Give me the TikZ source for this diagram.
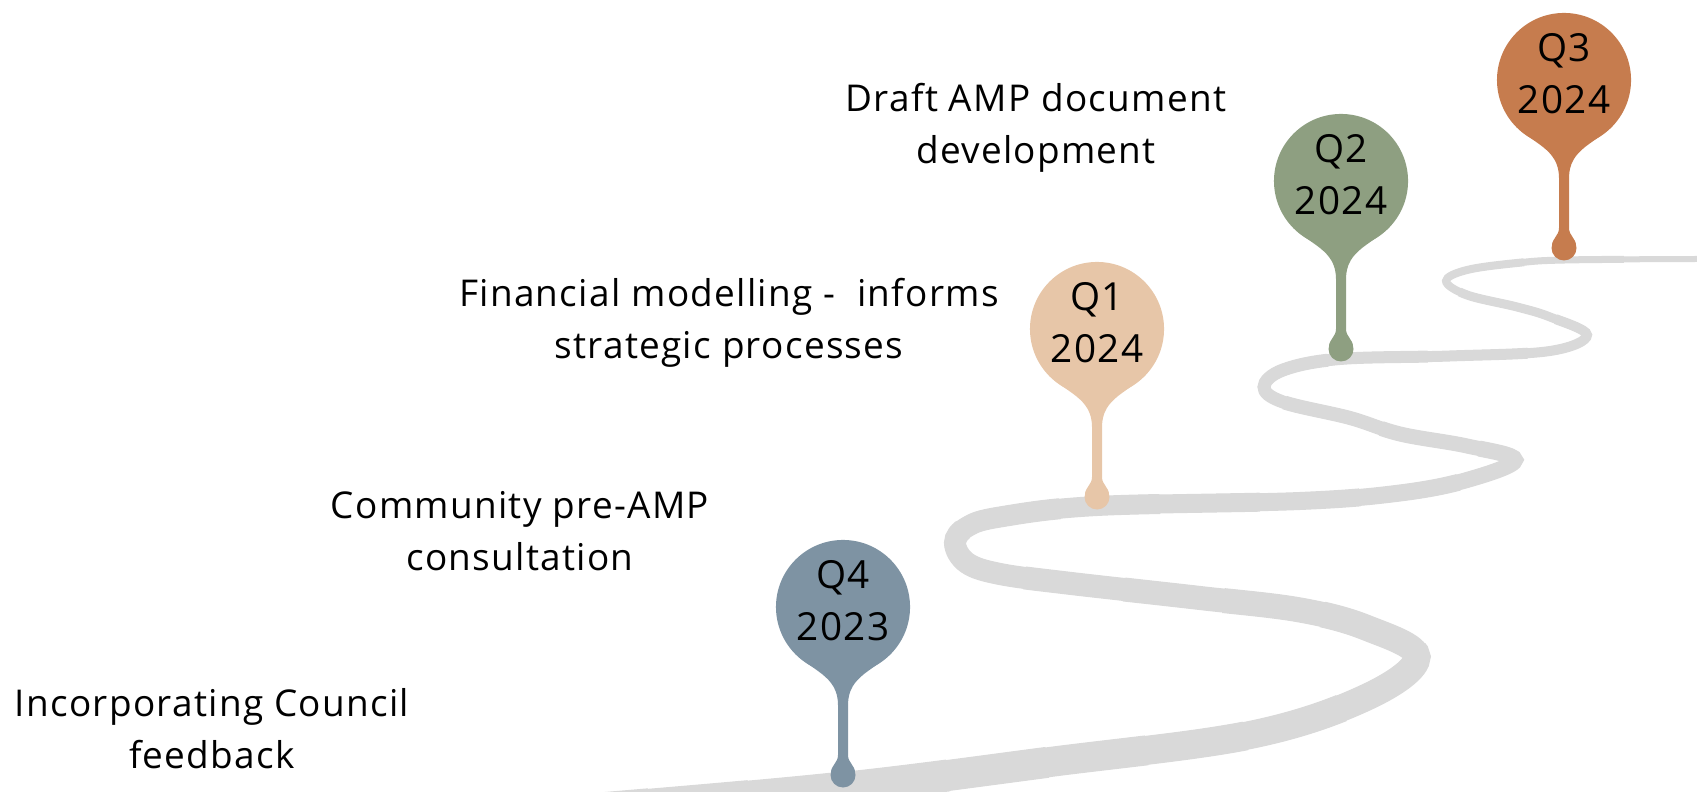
\documentclass[tikz,border=0pt]{standalone}
\usepackage{fontspec}
\setmainfont{Open Sans}[LetterSpace=3.5]
\usetikzlibrary{calc}
\definecolor{roadgray}{HTML}{D9D9D9}
\definecolor{pinslate}{HTML}{7E93A3}
\definecolor{pinpeach}{HTML}{E7C6A8}
\definecolor{pinsage}{HTML}{8E9F81}
\definecolor{pincopper}{HTML}{C67C4E}
\tikzset{
  roadline/.style={draw=roadgray},
  pintext/.style={align=center, anchor=base, inner sep=0pt, text=black,
    font=\fontsize{11}{14.8}\selectfont},
  lbl/.style={align=center, anchor=base, inner sep=0pt, text=black,
    font=\fontsize{10.5}{14.8}\selectfont},
}
\newcommand\mkpin[5]{%
  \begin{scope}[shift={(#2,#3)}]
    \fill[#4] (0,0) circle[radius=0.67cm];
    \fill[#4] (-50,44) .. controls (-32,64) and (-5,68) .. (-5,98)
      -- (-5,148) .. controls (-5,156) and (-12,158) .. (-12,166)
      -- (12,166) .. controls (12,158) and (5,156) .. (5,148)
      -- (5,98) .. controls (5,68) and (32,64) .. (50,44) -- cycle;
    \fill[#4] (0,168) circle[radius=0.125cm];
    \node[pintext] (#1) at (0,34) {#5};
  \end{scope}}
\def\roadpath{plot[smooth, tension=0.6] coordinates {
 (450,822) (600,810) (843,788) (1050,762) (1250,735) (1367,697)
 (1417,657) (1367,628) (1300,610) (1200,598) (1067,583) (1000,574)
 (967,563) (955,543) (967,527) (1000,517) (1097,506) (1300,501)
 (1400,493) (1467,480) (1515,460) (1467,446) (1400,434) (1350,418)
 (1283,402) (1264,387) (1283,370) (1340,359) (1450,356) (1550,351)
 (1587,335) (1550,317) (1517,307) (1467,295) (1446,281) (1467,270)
 (1517,263) (1565,260) (1697,259) (1760,259)}}
\begin{document}
\begin{tikzpicture}[x=0.01cm, y=-0.01cm]
\path[use as bounding box] (0,0) rectangle (1697,792);
\clip (0,0) rectangle (1697,792);
% tapering road
\foreach \w in {36,35,...,6} {
  \pgfmathsetmacro\segL{(37-\w)*28.45}
  \draw[roadline, line width=\w*0.2845pt, dash pattern=on \segL pt off 5000pt] \roadpath;
}
\draw[roadline, line width=5*0.2845pt] \roadpath;
% pins
\mkpin{q4}{843}{607}{pinslate}{Q4\\2023}
\mkpin{q1}{1097}{329}{pinpeach}{Q1\\2024}
\mkpin{q2}{1341}{181}{pinsage}{Q2\\2024}
\mkpin{q3}{1564}{80}{pincopper}{Q3\\2024}
% labels (anchor base = baseline of the last line)
\node[lbl] (draft) at (1036,164) {Draft AMP document\\development};
\node[lbl] (fin) at (729,359) {Financial modelling -\ \ informs\\strategic processes};
\node[lbl] (comm) at (520,571) {Community pre-AMP\\consultation};
\node[lbl] (inc) at (212,769) {Incorporating Council\\feedback};
\end{tikzpicture}
\end{document}
